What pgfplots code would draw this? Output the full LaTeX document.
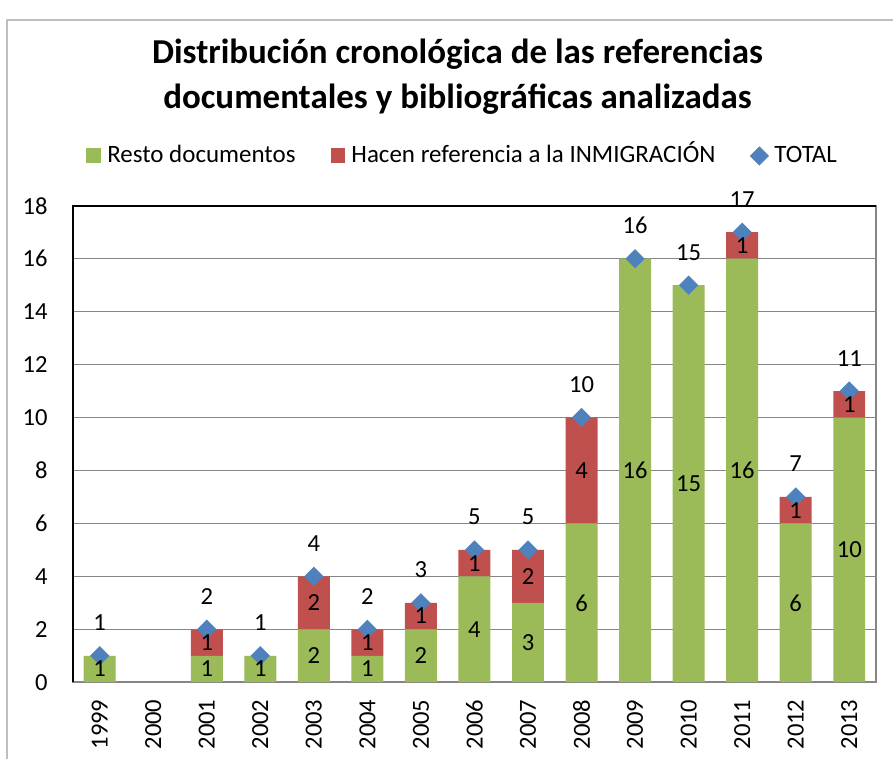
\documentclass[border=0pt]{standalone}
\usepackage{pgfplots}
\pgfplotsset{compat=1.18}
\usepackage{fontspec}
\setmainfont{Carlito}
\definecolor{cgreen}{HTML}{9BBB59}
\definecolor{cred}{HTML}{C0504D}
\definecolor{cblue}{HTML}{4F81BD}
\definecolor{cgrid}{HTML}{868686}
\newcommand{\lblfont}{\fontsize{12.3}{14.5}\selectfont}
\newcommand{\legfont}{\fontsize{12.5}{15}\selectfont}
\pgfplotsset{diamondleg/.style={legend image code/.code={\draw[mark repeat=1,##1] plot coordinates {(4.5pt,0pt)};}}}
\begin{document}
\begin{tikzpicture}[x=1pt,y=1pt]
\path (0,0) rectangle (447,380);
\draw[color=gray!50, line width=1pt] (3.5,0) -- (3.5,370) -- (447,370);
\node[align=center, font=\fontsize{17.5}{22.5}\selectfont\bfseries] at (229,341.75) {Distribución cronológica de las referencias\\documentales y bibliográficas analizadas};
\pgfplotsset{base/.style={scale only axis, width=402pt, height=238.5pt,
  at={(36.5pt,38.5pt)}, anchor=south west,
  xmin=-0.5, xmax=14.5, ymin=0, ymax=18,
  /pgf/number format/assume math mode=true}}
\begin{axis}[base, ybar stacked, bar width=16pt,
  ytick={0,2,...,18}, xtick={0,...,14},
  xticklabels={1999,2000,2001,2002,2003,2004,2005,2006,2007,2008,2009,2010,2011,2012,2013},
  major tick length=0pt,
  ymajorgrids, grid style={cgrid, line width=0.7pt},
  axis line style={cgrid, line width=0.8pt},
  tick label style={font=\lblfont},
  yticklabel style={inner sep=0pt, xshift=-12.5pt},
  xticklabel style={inner sep=0pt, yshift=-8.5pt, rotate=90, anchor=east},
  legend style={at={(0.4865,1.1045)}, anchor=center, draw=none, fill=none,
    legend columns=3, font=\legfont,
    nodes={inner sep=2pt, text height=0.95em, text depth=0.25em},
    /tikz/every odd column/.append style={column sep=1pt},
    /tikz/every even column/.append style={column sep=15.5pt}},
  legend cell align=left,
  after end axis/.code={\draw[black, line width=0.8pt] (rel axis cs:0,0) -- (rel axis cs:0,1) -- (rel axis cs:1,1);}
]
\addplot[fill=cgreen, draw=none,
  legend image code/.code={\fill[cgreen] (0pt,-3.75pt) rectangle (7.5pt,3.75pt);}] table {
x y
0 1
1 0
2 1
3 1
4 2
5 1
6 2
7 4
8 3
9 6
10 16
11 15
12 16
13 6
14 10
};
\addlegendentry{Resto documentos}
\addplot[fill=cred, draw=none,
  legend image code/.code={\fill[cred] (0pt,-3.75pt) rectangle (7.5pt,3.75pt);}] table {
x y
0 0
1 0
2 1
3 0
4 2
5 1
6 1
7 1
8 2
9 4
10 0
11 0
12 1
13 1
14 1
};
\addlegendentry{Hacen referencia a la INMIGRACIÓN}
\addlegendimage{only marks, mark=square*, mark size=3.2pt, mark options={rotate=45, fill=cblue, draw=cblue}, diamondleg}
\addlegendentry{TOTAL}
\end{axis}
\begin{axis}[base, hide axis, clip=false]
\addplot[only marks, mark=square*, mark size=3.2pt, mark options={rotate=45, fill=cblue, draw=cblue},
  nodes near coords, every node near coord/.append style={anchor=center, yshift=16.5pt, font=\lblfont, text=black}] table {
x y
0 1
2 2
3 1
4 4
5 2
6 3
7 5
8 5
9 10
10 16
11 15
12 17
13 7
14 11
};
\addplot[draw=none, mark=none, nodes near coords, point meta=explicit symbolic,
  every node near coord/.append style={anchor=center, font=\lblfont, text=black}] table[meta=l] {
x y l
0 0.5 1
2 0.5 1
3 0.5 1
4 1 2
5 0.5 1
6 1 2
7 2 4
8 1.5 3
9 3 6
10 8 16
11 7.5 15
12 8 16
13 3 6
14 5 10
2 1.5 1
4 3 2
5 1.5 1
6 2.5 1
7 4.5 1
8 4 2
9 8 4
12 16.5 1
13 6.5 1
14 10.5 1
};
\end{axis}
\end{tikzpicture}
\end{document}
